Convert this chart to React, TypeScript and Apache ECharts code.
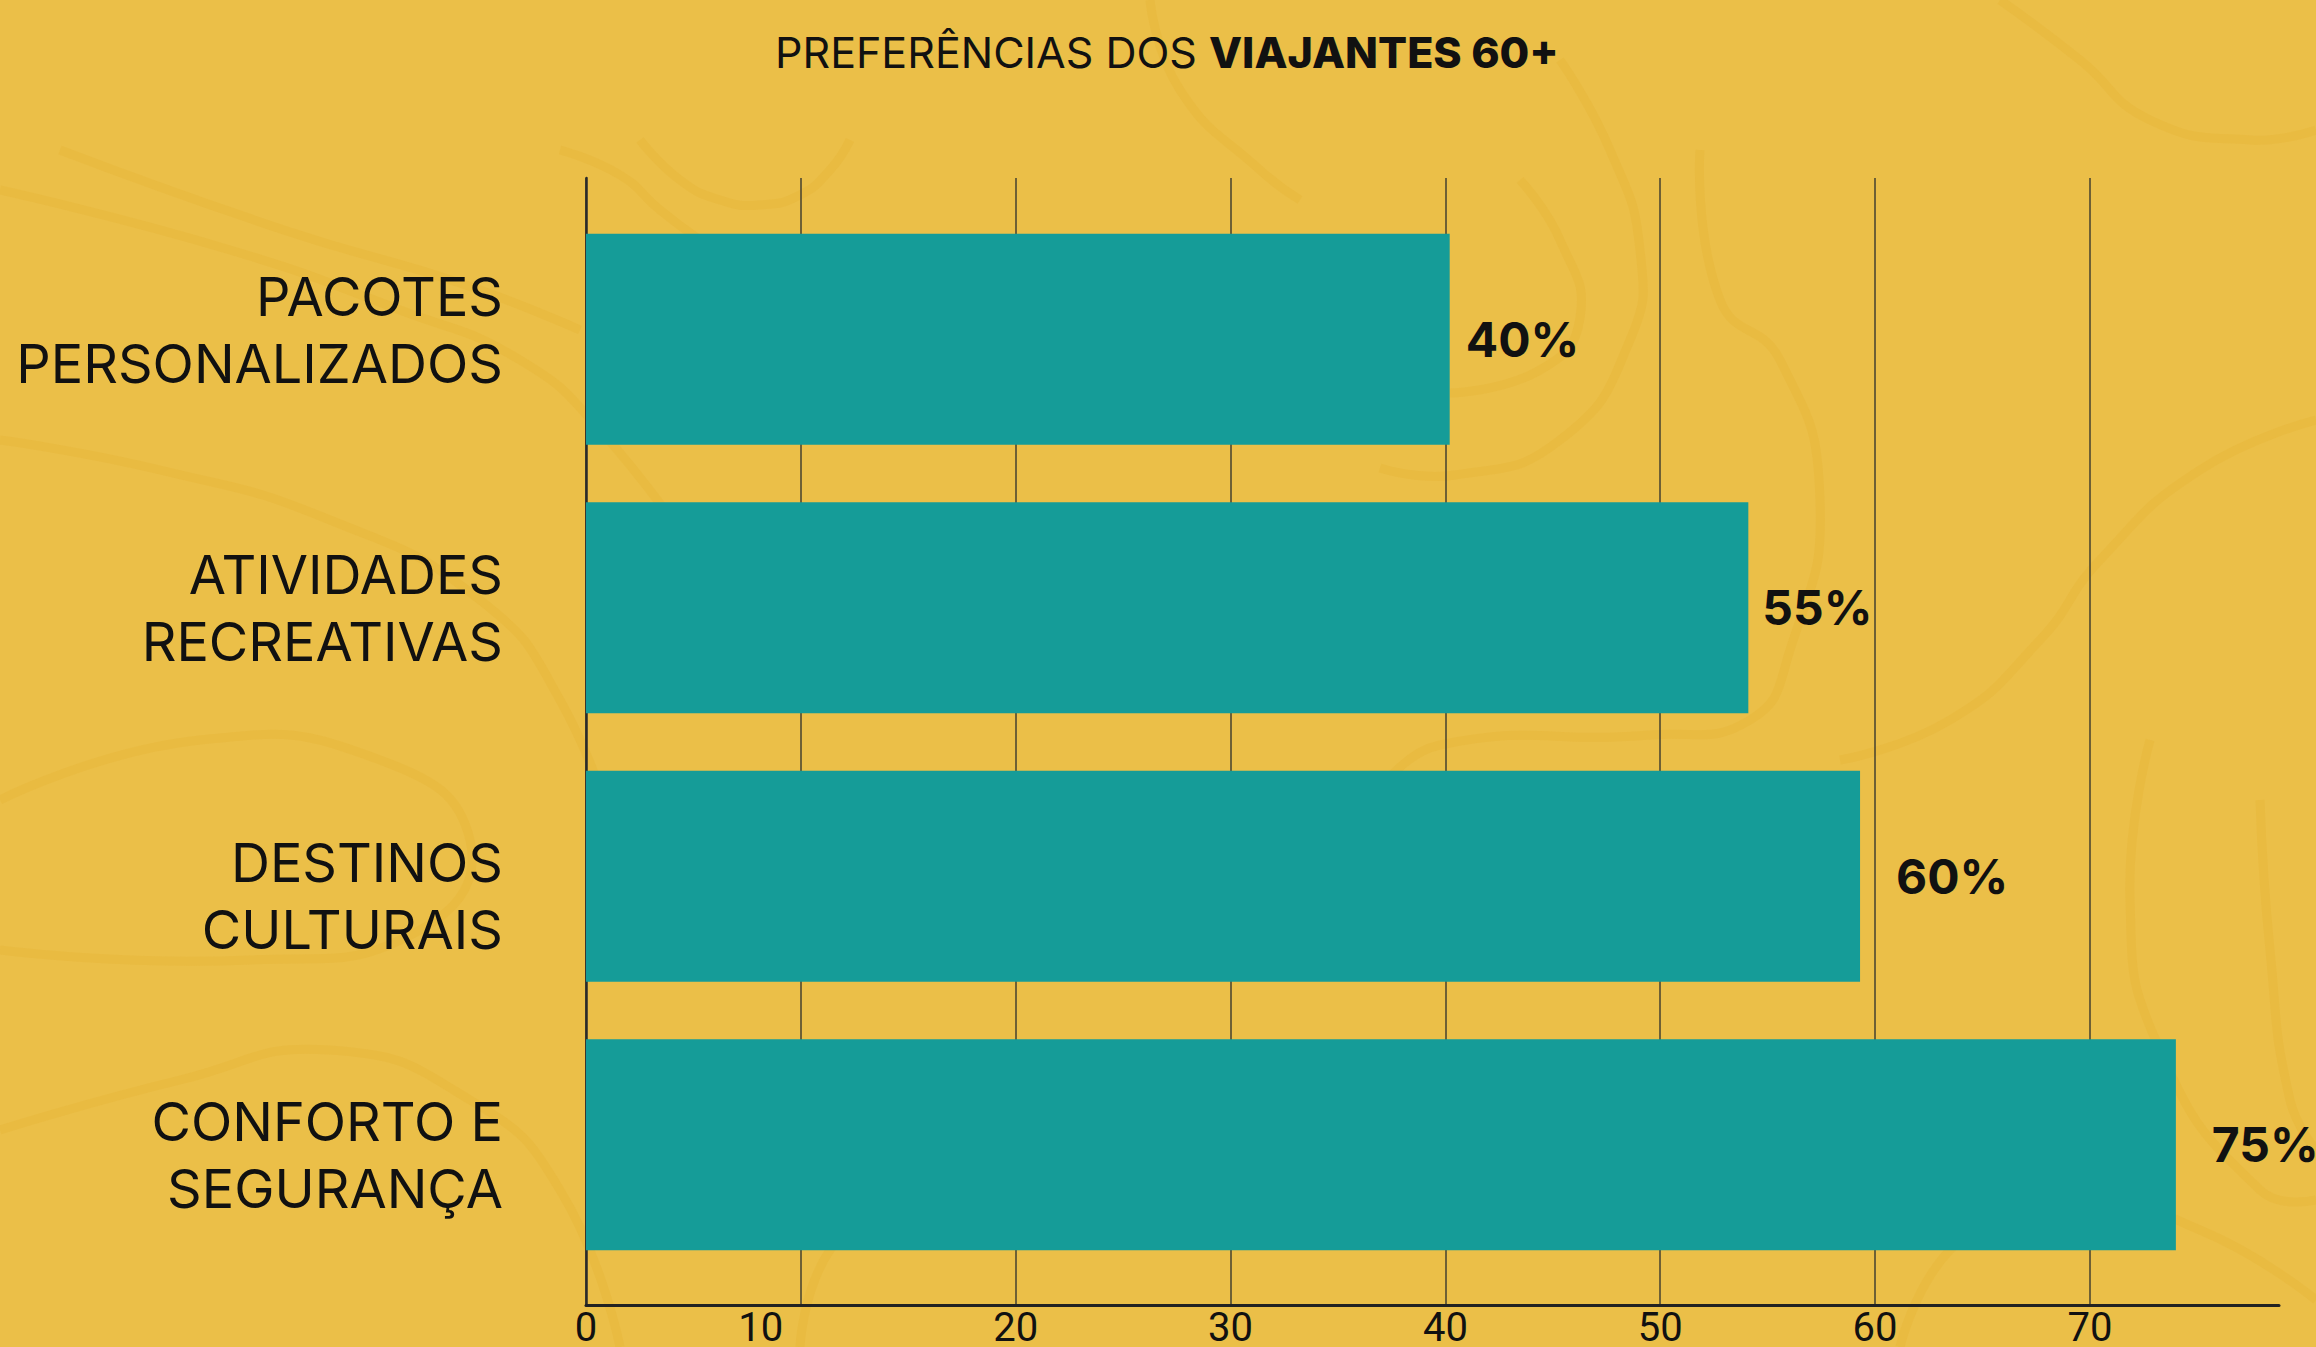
import React, { useEffect, useRef } from 'react';
import * as echarts from 'echarts';

// ---- data ----
const categories = [
  ['PACOTES', 'PERSONALIZADOS'],
  ['ATIVIDADES', 'RECREATIVAS'],
  ['DESTINOS', 'CULTURAIS'],
  ['CONFORTO E', 'SEGURANÇA'],
];
const values = [40.2, 54.1, 59.3, 74.0];
const valueLabels = ['40%', '55%', '60%', '75%'];
const xTicks = [0, 10, 20, 30, 40, 50, 60, 70];
const titleRegular = 'PREFERÊNCIAS DOS ';
const titleBold = 'VIAJANTES 60+';

// ---- styling ----
const labelGaps = [16, 14, 36, 36];
// vertical nudge of each category label (px, + = down)
const labelShift = [-9, 0, 20, 10];

// decorative topographic background lines (not data)
const contours: number[][][] = [
  [[0, 190], [230, 250], [400, 310], [520, 360], [600, 430], [700, 560]],
  [[60, 150], [290, 232], [460, 283], [580, 330]],
  [[0, 440], [160, 470], [330, 520], [480, 600], [560, 700], [620, 850]],
  [[0, 800], [200, 740], [380, 760], [470, 840], [420, 930], [250, 960], [0, 950]],
  [[0, 1130], [180, 1080], [330, 1050], [470, 1100], [560, 1190], [620, 1347]],
  [[1380, 468], [1455, 475], [1560, 440], [1630, 340], [1640, 250], [1610, 150], [1560, 60]],
  [[1450, 393], [1540, 370], [1580, 318], [1560, 240], [1520, 180]],
  [[1700, 150], [1720, 300], [1780, 360], [1820, 500], [1790, 650], [1750, 720], [1650, 735], [1440, 745], [1380, 790]],
  [[1840, 760], [1950, 720], [2040, 640], [2100, 560], [2200, 470], [2316, 420]],
  [[2150, 740], [2130, 900], [2160, 1050], [2260, 1190], [2316, 1200]],
  [[2260, 800], [2270, 950], [2290, 1100], [2316, 1150]],
  [[1900, 1347], [1950, 1250], [2050, 1190], [2200, 1230], [2316, 1300]],
  [[800, 1347], [830, 1250], [900, 1200], [1080, 1180], [1250, 1190], [1400, 1150]],
  [[560, 150], [620, 175], [660, 210], [700, 240]],
  [[640, 140], [680, 180], [720, 200], [760, 205], [800, 195], [830, 170], [850, 140]],
  [[2000, 0], [2080, 60], [2150, 120], [2250, 140], [2316, 130]],
  [[1150, 0], [1180, 90], [1260, 170], [1300, 200]],
];

const catFont = { fontFamily: 'Inter', fontSize: 54, lineHeight: 67, color: '#111' };

export default function App() {
  const ref = useRef<HTMLDivElement>(null);

  useEffect(() => {
    if (!ref.current) return;
    const chart = echarts.init(ref.current, null, { renderer: 'svg' });

    const rich: any = {};
    labelShift.forEach((s, i) => {
      rich['p' + i] = {
        ...catFont,
        padding: s >= 0 ? [2 * s, 0, 0, 0] : [0, 0, -2 * s, 0],
      };
    });

    const catLabel = (i: number) =>
      `{p${i}|${categories[i][0]}}\n{p${i}|${categories[i][1]}}`;

    const option: any = {
      animation: false,
      backgroundColor: '#EBBF48',
      graphic: contours.map((pts) => ({
        type: 'polyline',
        silent: true,
        z: -10,
        shape: { points: pts, smooth: 0.5 },
        style: { stroke: '#E8B83D', lineWidth: 9, fill: 'none', opacity: 0.65 },
      })),
      title: {
        text: `{r|${titleRegular}}{b|${titleBold}}`,
        left: 775,
        top: 30,
        padding: 0,
        textStyle: {
          rich: {
            r: { fontFamily: 'Inter', fontSize: 43, fontWeight: 400, color: '#111', lineHeight: 44 },
            b: { fontFamily: 'Inter', fontSize: 43, fontWeight: 800, color: '#111', lineHeight: 44 },
          },
        },
      },
      grid: [
        { left: 586, right: 37, top: 178, bottom: 37 },
        { left: 586, right: 37, top: 205, bottom: 68 },
      ],
      xAxis: [
        {
          gridIndex: 0,
          type: 'value',
          min: 0,
          max: 78.8,
          interval: 10,
          axisLine: { show: true, lineStyle: { color: '#222', width: 3 } },
          axisTick: { show: false },
          splitLine: { show: true, showMaxLine: false, lineStyle: { color: '#45402f', width: 1.5 } },
          axisLabel: {
            showMaxLabel: false,
            margin: 2,
            fontFamily: 'Roboto',
            fontSize: 40,
            color: '#111',
            formatter: (v: number) =>
              xTicks.includes(v) ? (v === 10 ? `{s|${v}}` : String(v)) : '',
            rich: {
              s: { padding: [0, 80, 0, 0], fontFamily: 'Roboto', fontSize: 40, color: '#111' },
            },
          },
        },
        { gridIndex: 1, type: 'value', min: 0, max: 78.8, show: false },
      ],
      yAxis: [
        {
          gridIndex: 0,
          type: 'value',
          min: 0,
          max: 1,
          axisLine: { show: true, lineStyle: { color: '#2a2a2a', width: 2.5 } },
          axisTick: { show: false },
          axisLabel: { show: false },
          splitLine: { show: false },
        },
        {
          gridIndex: 1,
          type: 'category',
          inverse: true,
          data: categories.map((c) => c.join('\n')),
          axisLine: { show: false },
          axisTick: { show: false },
          splitLine: { show: false },
          axisLabel: {
            margin: 83,
            ...catFont,
            align: 'right',
            formatter: (_v: string, i: number) => catLabel(i),
            rich,
          },
        },
      ],
      series: [
        {
          type: 'bar',
          xAxisIndex: 1,
          yAxisIndex: 1,
          barWidth: 211,
          data: values.map((v, i) => ({ value: v, label: { distance: labelGaps[i] } })),
          itemStyle: { color: '#159C98' },
          label: {
            show: true,
            position: 'right',
            formatter: (p: any) => valueLabels[p.dataIndex],
            fontFamily: 'Inter',
            fontSize: 48,
            fontWeight: 700,
            color: '#111',
          },
        },
      ],
    };

    chart.setOption(option);
    return () => chart.dispose();
  }, []);

  return (
    <div
      ref={ref}
      style={{ position: 'fixed', left: 0, top: 0, width: 2316, height: 1347 }}
    />
  );
}
